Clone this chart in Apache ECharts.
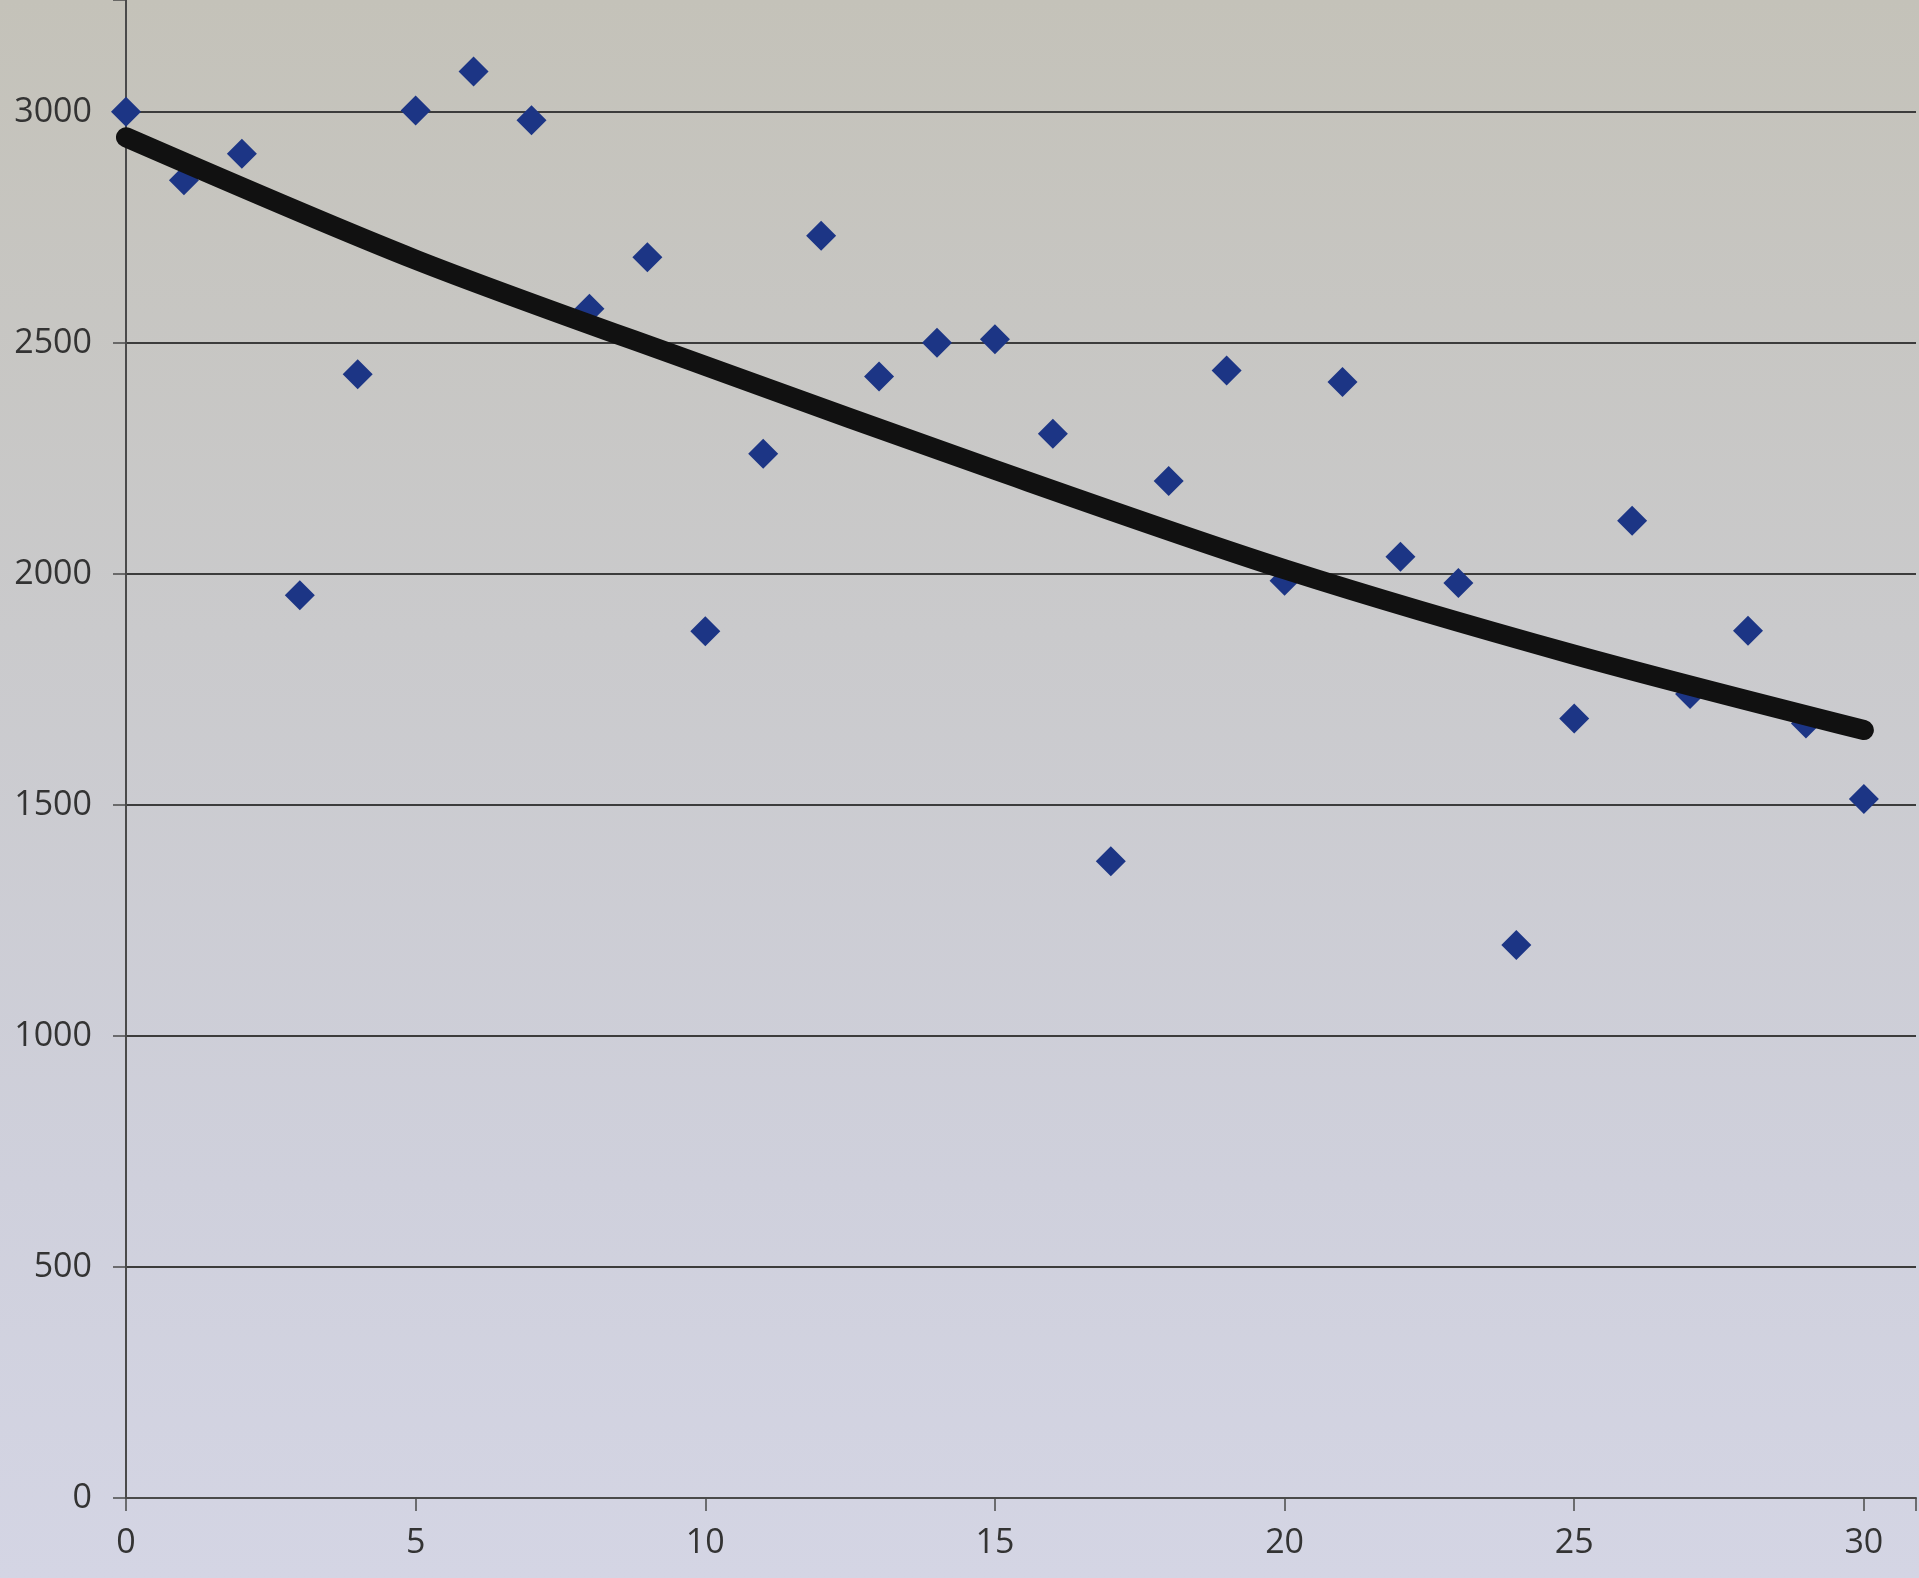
<!DOCTYPE html>
<html>
<head>
<meta charset="utf-8">
<script src="https://cdn.jsdelivr.net/npm/echarts@6/dist/echarts.min.js"></script>
<style>
html,body{margin:0;padding:0;background:#c8c8c8;}
#chart{width:1919px;height:1578px;}
</style>
</head>
<body>
<div id="chart"></div>
<script>
// Data
const xValues = [0,1,2,3,4,5,6,7,8,9,10,11,12,13,14,15,16,17,18,19,20,21,22,23,24,25,26,27,28,29,30];
const yValues = [3000,2852,2909,1954,2432,3003,3087,2982,2574,2685,1876,2260,2732,2427,2500,2508,2303,1378,2201,2440,1985,2415,2037,1980,1197,1687,2115,1740,1877,1676,1513];
// Trend line at these x positions
const trendX = [0,5,10,15,20,25,30];
const trendY = [2945,2680,2450,2225,2010,1825,1662];
// Tick labels
const xTickLabels = [0,5,10,15,20,25,30];
const yTickLabels = [0,500,1000,1500,2000,2500,3000];
// Visible ends of the axes (the picture is cropped there)
const yTop = 3242;
const xEnd = 30.9;

const chart = echarts.init(document.getElementById('chart'), null, {renderer:'canvas'});
const labelFont = '"Open Sans", "DejaVu Sans", sans-serif';
const option = {
  animation: false,
  backgroundColor: new echarts.graphic.LinearGradient(0, 0, 0, 1, [
    {offset: 0, color: '#c4c2b9'},
    {offset: 0.4, color: '#cacacc'},
    {offset: 0.75, color: '#cfd0dc'},
    {offset: 1, color: '#d4d5e4'}
  ]),
  grid: {left: 126, right: 1, top: 0, bottom: 80, containLabel: false},
  xAxis: {
    type: 'value', min: 0, max: xEnd, interval: 5,
    axisLine: {show: true, onZero: false, lineStyle: {color: '#4a4a4a', width: 2}},
    axisTick: {show: true, length: 13, lineStyle: {color: '#4a4a4a', width: 1.5}},
    axisLabel: {
      margin: 28, fontSize: 34, color: '#333', fontFamily: labelFont,
      formatter: v => xTickLabels.includes(v) ? String(v) : ''
    },
    splitLine: {show: false}
  },
  yAxis: {
    type: 'value', min: 0, max: yTop, interval: 500,
    axisLine: {show: true, onZero: false, lineStyle: {color: '#4a4a4a', width: 2}},
    axisTick: {show: true, length: 13, lineStyle: {color: '#4a4a4a', width: 1.5}},
    axisLabel: {
      margin: 34, fontSize: 34, color: '#333', fontFamily: labelFont,
      formatter: v => yTickLabels.includes(v) ? String(v) : ''
    },
    splitLine: {show: true, showMaxLine: false, lineStyle: {color: '#3c3c3c', width: 2}}
  },
  series: [
    {
      type: 'scatter',
      data: xValues.map((x, i) => [x, yValues[i]]),
      symbol: 'diamond', symbolSize: [30, 30],
      itemStyle: {color: '#1c3585', opacity: 1},
      z: 2
    },
    {
      type: 'line',
      data: trendX.map((x, i) => [x, trendY[i]]),
      smooth: 0.3,
      symbol: 'none',
      lineStyle: {color: '#111111', width: 20, cap: 'round', join: 'round'},
      z: 3
    }
  ]
};
chart.setOption(option);
</script>
</body>
</html>
